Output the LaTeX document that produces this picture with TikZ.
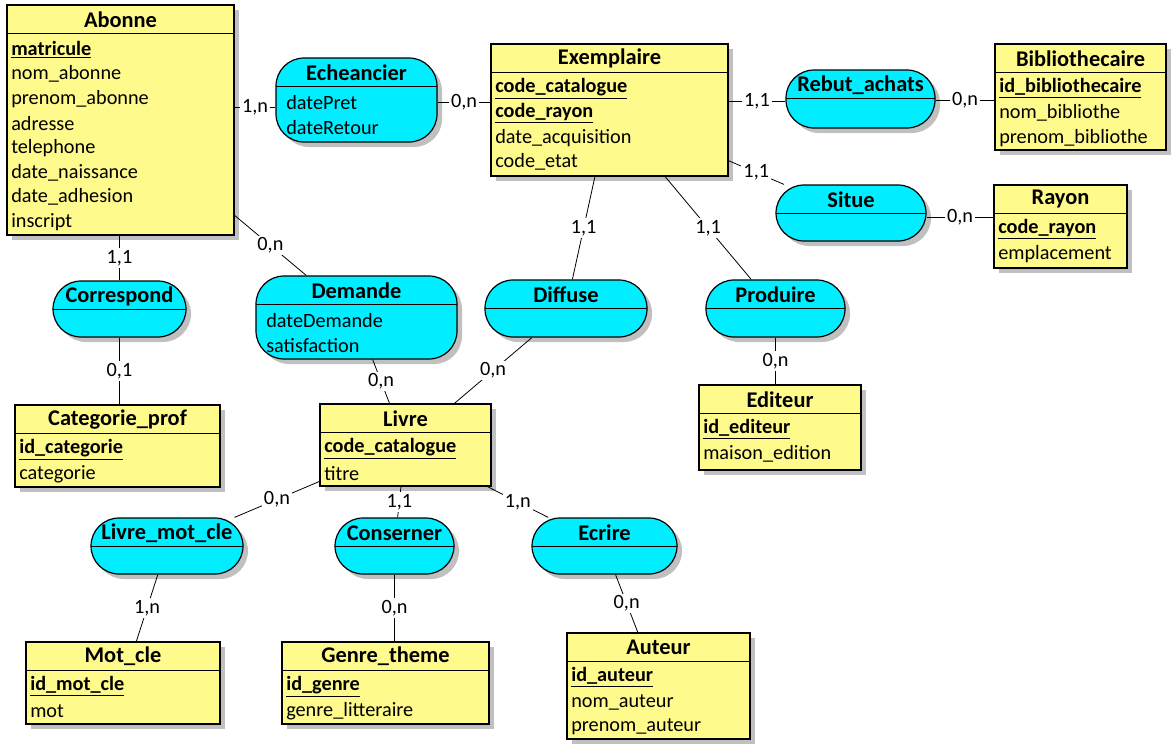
\documentclass[tikz,border=0pt]{standalone}
\usepackage{fontspec}
\setmainfont{Carlito}
\usetikzlibrary{calc, fit, shadows}
\definecolor{entitefill}{RGB}{255, 250, 140}
\definecolor{assocfill}{RGB}{0, 238, 255}
\definecolor{ombre}{RGB}{192, 192, 192}
\tikzset{
    boite/.style={draw, inner sep=0pt, line width=.9pt,
        drop shadow={shadow xshift=3.75pt, shadow yshift=-3.75pt, fill=ombre,
            opacity=1}},
    entite/.style={boite, fill=entitefill},
    association/.style={boite, fill=assocfill, rounded corners=21pt},
    titre/.style={inner sep=0pt, font=\fontsize{16.8}{20}\selectfont\bfseries},
    attrib/.style={anchor=west, inner sep=0pt,
        font=\fontsize{15.2}{18}\selectfont},
    card/.style={fill=white, inner sep=1.5pt,
        font=\fontsize{15.2}{18}\selectfont},
    lien/.style={line width=.6pt},
}
\newcommand{\cle}[1]{\textbf{\underline{#1}}}
% name, x0, y0, x1, y1, title, attributes
\newcommand{\entite}[7]{
    \node[entite, fit={(#2,#3) (#4,#5)}] (#1) {};
    \node[titre] at ($(#1.north)+(0,15)$) {#6};
    \draw (#2,#3+28) -- (#4,#3+28);
    \foreach \attr [count=\i] in {#7}
        \node[attrib] at (#2+4, #3+44.5+24.6*\i-24.6) {\attr};
}
\newcommand{\assoc}[7]{
    \node[association, fit={(#2,#3) (#4,#5)}] (#1) {};
    \node[titre] at ($(#1.north)+(0,15.5)$) {#6};
    \draw (#2,#3+28) -- (#4,#3+28);
    \foreach \attr [count=\i] in {#7}
        \node[attrib] at (#2+10, #3+44.5+24.6*\i-24.6) {\attr};
}

\begin{document}
\begin{tikzpicture}[x=0.75pt, y=-0.75pt]
    \useasboundingbox (0, 0) rectangle (1173, 746);
    \entite{abonne}{7}{5}{234}{235}{Abonne}{\cle{matricule}, nom\_abonne,
        prenom\_abonne, adresse, telephone, date\_naissance, date\_adhesion,
        inscript}
    \entite{exemplaire}{491}{44}{728}{176}{Exemplaire}{\cle{code\_catalogue},
        \cle{code\_rayon}, date\_acquisition, code\_etat}
    \entite{bibliothecaire}{995}{44}{1166}{150}{Bibliothecaire}{
        \cle{id\_bibliothecaire}, nom\_bibliothe, prenom\_bibliothe}
    \entite{rayon}{994}{185}{1127}{268}{Rayon}{\cle{code\_rayon}, emplacement}
    \entite{editeur}{699}{385}{861}{470}{Editeur}{\cle{id\_editeur},
        maison\_edition}
    \entite{categorie}{15}{405}{220}{487}{Categorie\_prof}{\cle{id\_categorie},
        categorie}
    \entite{livre}{320}{404}{491}{486}{Livre}{\cle{code\_catalogue}, titre}
    \entite{motcle}{26}{642}{220}{724}{Mot\_cle}{\cle{id\_mot\_cle}, mot}
    \entite{genre}{282}{642}{489}{724}{Genre\_theme}{\cle{id\_genre},
        genre\_litteraire}
    \entite{auteur}{567}{633}{750}{739}{Auteur}{\cle{id\_auteur}, nom\_auteur,
        prenom\_auteur}

    \assoc{echeancier}{276}{58}{437}{142}{Echeancier}{datePret, dateRetour}
    \assoc{rebut}{786}{70}{935}{128}{Rebut\_achats}{}
    \assoc{situe}{776}{185}{926}{241}{Situe}{}
    \assoc{correspond}{53}{281}{186}{337}{Correspond}{}
    \assoc{demande}{256}{276}{457}{359}{Demande}{dateDemande, satisfaction}
    \assoc{diffuse}{485}{280}{647}{337}{Diffuse}{}
    \assoc{produire}{706}{280}{845}{337}{Produire}{}
    \assoc{livremotcle}{91}{518}{243}{574}{Livre\_mot\_cle}{}
    \assoc{conserner}{335}{518}{454}{574}{Conserner}{}
    \assoc{ecrire}{532}{518}{677}{574}{Ecrire}{}

    % cardinalites
    \begin{scope}[lien]
        \draw ($(echeancier.west -| abonne.east)+(0,7)$) -- node[card] {1,n}
            ($(echeancier.west)+(0,7)$);
        \draw ($(echeancier.east)+(0,2)$) -- node[card] {0,n}
            ($(echeancier.east -| exemplaire.west)+(0,2)$);
        \draw ($(rebut.west -| exemplaire.east)+(0,2)$) -- node[card] {1,1}
            ($(rebut.west)+(0,2)$);
        \draw ($(rebut.east)+(0,1)$) -- node[card] {0,n}
            ($(rebut.east -| bibliothecaire.west)+(0,1)$);
        \draw (exemplaire) -- node[card] {1,1} (situe);
        \draw ($(situe.east)+(0,4)$) -- node[card] {0,n}
            ($(situe.east -| rayon.west)+(0,4)$);
        \draw (abonne.south -| correspond) -- node[card] {1,1} (correspond);
        \draw (correspond) -- node[card] {0,1} (correspond |- categorie.north);
        \draw (abonne) -- node[card] {0,n} (demande);
        \draw (demande) -- node[card] {0,n} (livre);
        \draw (exemplaire) -- node[card] {1,1} (diffuse);
        \draw (diffuse) -- node[card] {0,n} (livre);
        \draw (exemplaire) -- node[card] {1,1} (produire);
        \draw (produire) -- node[card] {0,n} (produire |- editeur.north);
        \draw (livre) -- node[card] {0,n} (livremotcle);
        \draw (livre) -- node[card] {1,1} (conserner);
        \draw (livre) -- node[card] {1,n} (ecrire);
        \draw (livremotcle) -- node[card] {1,n} (motcle);
        \draw (conserner) -- node[card] {0,n} (conserner |- genre.north);
        \draw (ecrire) -- node[card] {0,n} (auteur);
    \end{scope}
\end{tikzpicture}
\end{document}
